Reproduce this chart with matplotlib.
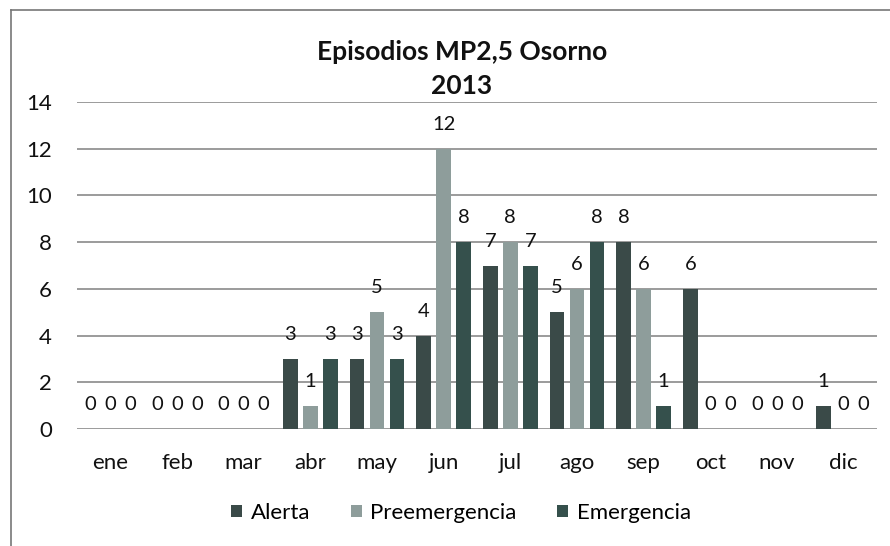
import matplotlib
matplotlib.use("Agg")
import matplotlib.pyplot as plt
import numpy as np
from matplotlib.patches import Patch
from matplotlib.lines import Line2D

months = ["ene", "feb", "mar", "abr", "may", "jun", "jul", "ago", "sep", "oct", "nov", "dic"]
alerta = [0, 0, 0, 3, 3, 4, 7, 5, 8, 6, 0, 1]
preemergencia = [0, 0, 0, 1, 5, 12, 8, 6, 6, 0, 0, 0]
emergencia = [0, 0, 0, 3, 3, 8, 7, 8, 1, 0, 0, 0]
series_names = ["Alerta", "Preemergencia", "Emergencia"]
yticks = [0, 2, 4, 6, 8, 10, 12, 14]

colors = ["#3a4a48", "#8e9d9b", "#35504c"]
plt.rcParams['font.family'] = ['Lato', 'DejaVu Sans']

fig = plt.figure(figsize=(8.9, 5.46), dpi=100)
fig.patch.set_facecolor("white")
ax = fig.add_axes([77/890, 1-429/546, 800/890, (429-102)/546])

x = np.arange(len(months))
offs = [-0.30, 0.0, 0.30]
w = 0.22
for vals, off, c in zip([alerta, preemergencia, emergencia], offs, colors):
    ax.bar(x + off, vals, width=w, color=c, zorder=3)
    for xi, v in zip(x + off, vals):
        ax.annotate(str(v), (xi, v), xytext=(0, 17.5), textcoords="offset points",
                    ha="center", va="center", fontsize=14.5, color="#111111")

ax.set_xlim(-0.5, 11.5)
ax.set_ylim(0, 14)
ax.set_yticks(yticks)
ax.set_xticks(x)
ax.set_xticklabels(months)
ax.tick_params(axis="both", length=0, labelsize=16, colors="#111111")
ax.tick_params(axis="y", pad=18)
ax.tick_params(axis="x", pad=17)
ax.yaxis.grid(True, color="#8a8a8a", linewidth=1.2, zorder=0)
for s in ax.spines.values():
    s.set_visible(False)
ax.set_axisbelow(True)

fig.text(462/890, 1-52/546, "Episodios MP2,5 Osorno", ha="center", va="center",
         fontsize=19, fontweight="bold", color="#111111")
fig.text(462/890, 1-86/546, "2013", ha="center", va="center",
         fontsize=19, fontweight="bold", color="#111111")

handles = [Patch(facecolor=c, label=n) for c, n in zip(colors, series_names)]
fig.legend(handles=handles, loc="center", bbox_to_anchor=(461/890, 1-513/546), ncol=3,
           frameon=False, fontsize=16, handlelength=0.5, handleheight=0.5,
           handletextpad=0.4, columnspacing=1.8)

# chart frame
fig.add_artist(Line2D([11/890, 11/890], [0, 1-10/546], color="#777777", lw=1.2))
fig.add_artist(Line2D([11/890, 1], [1-10/546, 1-10/546], color="#777777", lw=1.2))

fig.savefig("out.png", dpi=100, facecolor="white")
